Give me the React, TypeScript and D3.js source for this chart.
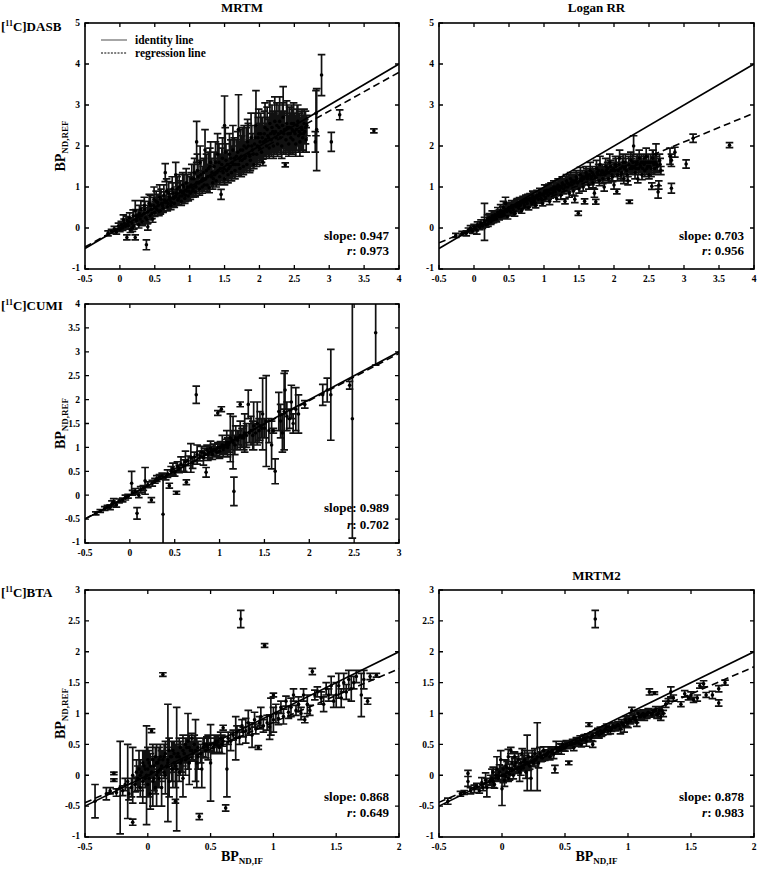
import React from "react";
import * as d3 from "d3";

type Pt = [number, number, number]; // x, y, half error

// [11C]DASB, MRTM
const dasbMrtm: Pt[] = [
  [-0.17,-0.13,0.06],[-0.12,-0.08,0.05],[-0.08,-0.02,0.06],[-0.05,-0.1,0.05],[-0.02,0.05,0.07],[0.0,-0.03,0.06],[0.02,0.08,0.08],[0.04,0.0,0.06],[0.06,0.12,0.1],[0.08,0.04,0.07],[0.1,-0.23,0.06],[0.1,0.18,0.1],[0.12,0.06,0.08],[0.14,0.25,0.12],[0.15,-0.04,0.07],[0.17,0.12,0.09],[0.19,0.3,0.14],[0.2,0.05,0.08],
  [0.22,-0.23,0.06],[0.22,0.42,0.25],[0.24,0.18,0.1],[0.26,0.3,0.15],[0.27,0.08,0.08],[0.29,0.22,0.12],[0.3,0.45,0.22],[0.32,0.15,0.09],[0.34,0.35,0.14],[0.35,0.55,0.2],[0.37,0.25,0.1],[0.38,-0.41,0.12],[0.4,0.03,0.08],[0.4,0.4,0.15],[0.42,0.6,0.22],[0.43,0.3,0.1],[0.45,0.45,0.15],[0.47,0.22,0.08],[0.48,0.55,0.2],[0.5,0.38,0.1],
  [0.52,0.65,0.25],[0.53,0.45,0.1],[0.55,0.55,0.15],[0.57,0.75,0.3],[0.58,0.42,0.08],[0.6,0.6,0.18],[0.62,0.48,0.1],[0.63,0.8,0.25],[0.65,1.35,0.22],[0.66,0.62,0.15],[0.68,0.52,0.1],[0.7,0.85,0.28],[0.72,0.68,0.15],[0.73,0.55,0.1],[0.75,0.95,0.3],[0.77,0.72,0.18],[0.78,0.6,0.1],[0.8,1.3,0.3],[0.81,0.85,0.25],[0.83,0.68,0.12],[0.85,1.0,0.3],[0.86,0.78,0.15],[0.88,0.65,0.1],[0.9,1.05,0.3],[0.91,0.85,0.2],[0.93,0.72,0.12],[0.95,1.1,0.35],[0.96,0.9,0.2],[0.98,0.78,0.12],[1.0,1.0,0.25],
  [1.01,0.85,0.15],[1.03,1.2,0.35],[1.05,0.95,0.2],[1.07,1.35,0.35],[1.08,0.88,0.12],[1.1,2.1,0.5],[1.1,1.1,0.25],[1.12,1.25,0.3],[1.14,0.95,0.15],[1.15,1.6,0.4],[1.17,1.15,0.25],[1.18,1.0,0.15],[1.2,1.35,0.35],[1.22,1.9,0.5],[1.23,1.2,0.25],[1.25,1.05,0.15],[1.27,1.45,0.4],[1.28,0.98,0.12],[1.3,1.6,0.5],[1.31,1.25,0.25],[1.33,1.1,0.15],[1.35,1.5,0.35],[1.36,1.3,0.25],[1.38,1.15,0.15],[1.4,1.8,0.5],[1.41,1.4,0.3],[1.43,1.25,0.2],[1.45,0.82,0.12],[1.46,1.55,0.4],[1.48,1.35,0.25],[1.5,2.5,0.72],[1.5,1.2,0.15],
  [1.52,1.65,0.4],[1.53,1.4,0.25],[1.55,1.3,0.2],[1.57,1.8,0.5],[1.58,1.5,0.3],[1.6,1.35,0.2],[1.62,1.9,0.6],[1.63,1.55,0.3],[1.65,1.4,0.2],[1.67,1.75,0.4],[1.7,2.4,0.85],[1.7,1.55,0.3],[1.72,1.45,0.2],[1.73,1.9,0.5],[1.75,1.65,0.3],[1.77,1.5,0.2],[1.78,2.0,0.5],[1.8,1.75,0.35],[1.82,1.55,0.2],[1.83,2.1,0.55],[1.85,1.8,0.35],[1.87,1.65,0.25],[1.88,2.2,0.6],[1.9,1.9,0.4],[1.92,1.55,0.1],[1.93,2.05,0.45],[1.95,2.5,0.85],[1.96,1.8,0.3],[1.98,2.2,0.5],[2.0,1.95,0.35],
  [2.02,2.3,0.5],[2.03,1.85,0.25],[2.05,1.6,0.08],[2.06,2.1,0.4],[2.08,2.45,0.6],[2.1,2.0,0.3],[2.12,2.25,0.45],[2.14,1.95,0.25],[2.15,2.55,0.55],[2.17,2.15,0.4],[2.19,2.35,0.5],[2.2,2.0,0.3],[2.22,2.6,0.6],[2.24,2.2,0.4],[2.26,2.05,0.3],[2.28,2.45,0.55],[2.3,2.2,0.4],[2.32,2.0,0.3],[2.34,2.7,0.75],[2.35,2.3,0.5],[2.37,1.54,0.05],[2.38,2.15,0.35],[2.4,2.45,0.55],[2.42,2.05,0.3],[2.44,2.3,0.5],[2.46,2.55,0.45],[2.48,2.15,0.35],[2.5,2.35,0.45],[2.52,2.05,0.3],[2.54,2.5,0.5],[2.56,2.25,0.4],[2.58,2.1,0.35],[2.6,2.45,0.4],[2.62,2.2,0.35],[2.64,2.55,0.35],[2.65,2.35,0.3],[2.67,2.15,0.3],[2.68,2.5,0.25],
  [0.05,0.2,0.12],[0.13,0.15,0.1],[0.18,0.0,0.08],[0.23,0.3,0.15],[0.28,0.35,0.2],[0.31,0.3,0.12],[0.36,0.45,0.2],[0.39,0.2,0.1],[0.44,0.55,0.25],[0.46,0.35,0.12],[0.49,0.7,0.3],[0.51,0.5,0.15],[0.54,0.62,0.2],[0.56,0.4,0.1],[0.59,0.7,0.25],[0.61,0.55,0.15],[0.64,0.68,0.2],[0.67,0.9,0.3],[0.69,0.6,0.12],[0.71,0.75,0.2],[0.74,0.62,0.12],[0.76,0.85,0.25],[0.79,0.75,0.2],[0.82,0.95,0.3],[0.84,0.72,0.15],[0.87,0.9,0.25],[0.89,0.78,0.15],[0.92,1.0,0.3],[0.94,0.8,0.15],[0.97,1.0,0.3],[0.99,0.9,0.2],
  [1.02,1.05,0.3],[1.04,0.9,0.15],[1.06,1.2,0.35],[1.09,1.0,0.2],[1.11,1.4,0.4],[1.13,1.1,0.2],[1.16,1.3,0.35],[1.19,1.2,0.3],[1.21,1.05,0.15],[1.24,1.4,0.4],[1.26,1.25,0.3],[1.29,1.5,0.45],[1.32,1.35,0.35],[1.34,1.2,0.2],[1.37,1.6,0.5],[1.39,1.35,0.3],[1.42,1.6,0.45],[1.44,1.45,0.35],[1.47,1.7,0.5],[1.49,1.45,0.3],
  [1.51,1.85,0.6],[1.54,1.55,0.35],[1.56,1.45,0.25],[1.59,1.7,0.45],[1.61,1.6,0.4],[1.64,1.7,0.5],[1.66,1.55,0.3],[1.69,1.85,0.5],[1.71,1.7,0.4],[1.74,1.75,0.5],[1.76,1.9,0.55],[1.79,1.7,0.35],[1.81,1.95,0.5],[1.84,2.0,0.55],[1.86,1.75,0.4],[1.89,2.0,0.5],[1.91,1.8,0.35],[1.94,2.2,0.6],[1.97,2.0,0.45],[1.99,2.3,0.6],
  [2.01,2.1,0.45],[2.04,2.2,0.5],[2.07,2.3,0.55],[2.09,2.15,0.4],[2.11,2.4,0.55],[2.13,2.2,0.45],[2.16,2.3,0.5],[2.18,2.45,0.55],[2.21,2.3,0.5],[2.23,2.35,0.5],[2.25,2.5,0.55],[2.27,2.3,0.45],[2.29,2.6,0.6],[2.31,2.35,0.5],[2.33,2.5,0.55],[2.36,2.4,0.45],[2.39,2.55,0.55],[2.41,2.3,0.45],[2.43,2.45,0.5],[2.45,2.2,0.4],[2.47,2.4,0.5],[2.49,2.55,0.5],[2.51,2.3,0.45],[2.53,2.4,0.5],[2.55,2.6,0.4],[2.57,2.35,0.45],[2.59,2.3,0.4],[2.61,2.4,0.5],[2.63,2.3,0.45],[2.66,2.45,0.4],
  [2.8,2.1,0.25],[2.82,2.4,1.0],[2.81,2.8,0.55],[2.89,3.73,0.5],[3.03,2.1,0.23],[3.15,2.76,0.12],[3.64,2.37,0.05],
];

// [11C]DASB, Logan RR
const dasbLogan: Pt[] = [
  [-0.26,-0.18,0.05],[-0.17,-0.13,0.05],[-0.11,-0.13,0.06],[-0.08,-0.05,0.05],[-0.05,0.0,0.06],[-0.02,-0.08,0.05],[0.0,0.03,0.06],[0.02,-0.02,0.05],[0.04,-0.05,0.1],[0.05,0.08,0.07],[0.08,0.02,0.06],[0.1,0.12,0.08],[0.12,0.05,0.06],[0.15,0.15,0.45],[0.15,0.18,0.08],[0.17,0.08,0.06],[0.19,0.22,0.1],[0.2,0.1,0.06],
  [0.22,0.25,0.1],[0.24,0.15,0.06],[0.26,0.3,0.12],[0.28,0.2,0.07],[0.3,0.32,0.1],[0.32,0.22,0.07],[0.34,0.38,0.12],[0.36,0.28,0.08],[0.38,0.42,0.15],[0.4,0.3,0.08],[0.42,0.5,0.15],[0.43,0.35,0.1],[0.45,0.6,0.15],[0.47,0.4,0.1],[0.48,0.28,0.06],[0.5,0.5,0.12],[0.52,0.4,0.08],[0.54,0.55,0.12],[0.56,0.45,0.1],[0.58,0.35,0.06],[0.6,0.52,0.1],
  [0.62,0.6,0.12],[0.64,0.48,0.08],[0.66,0.55,0.1],[0.68,0.42,0.06],[0.7,0.65,0.12],[0.72,0.55,0.08],[0.74,0.7,0.1],[0.76,0.6,0.1],[0.78,0.5,0.06],[0.8,0.72,0.12],[0.82,0.62,0.08],[0.84,0.78,0.12],[0.86,0.65,0.1],[0.88,0.55,0.06],[0.9,0.8,0.12],[0.92,0.7,0.1],[0.94,0.85,0.12],[0.96,0.72,0.08],[0.98,0.6,0.06],[1.0,0.85,0.12],
  [1.02,0.75,0.1],[1.04,0.92,0.12],[1.06,0.8,0.1],[1.08,0.65,0.08],[1.1,0.95,0.15],[1.12,0.85,0.1],[1.14,1.0,0.15],[1.16,0.88,0.1],[1.18,0.72,0.08],[1.2,1.05,0.15],[1.22,0.92,0.12],[1.24,0.8,0.1],[1.26,1.1,0.15],[1.28,0.95,0.12],[1.3,0.65,0.06],[1.32,1.15,0.15],[1.34,1.0,0.12],[1.36,0.85,0.1],[1.38,1.2,0.15],[1.4,1.05,0.12],[1.42,0.9,0.1],[1.44,0.7,0.08],[1.46,1.25,0.15],[1.48,1.1,0.12],[1.49,0.36,0.05],[1.5,0.95,0.1],
  [1.52,1.3,0.18],[1.54,1.15,0.12],[1.56,1.0,0.1],[1.58,0.65,0.06],[1.6,1.35,0.15],[1.62,1.2,0.15],[1.64,1.05,0.1],[1.66,1.4,0.2],[1.68,1.25,0.15],[1.7,1.1,0.12],[1.72,0.85,0.1],[1.74,0.64,0.06],[1.75,1.45,0.2],[1.77,1.3,0.15],[1.79,1.15,0.12],[1.8,1.55,0.2],[1.82,1.35,0.15],[1.84,1.2,0.12],[1.86,1.0,0.1],[1.88,1.5,0.2],[1.9,1.35,0.15],[1.92,1.2,0.1],[1.94,1.6,0.2],[1.96,1.4,0.15],[1.98,1.25,0.12],[2.0,1.05,0.1],
  [2.02,1.55,0.2],[2.04,0.89,0.06],[2.06,1.4,0.15],[2.08,1.7,0.2],[2.1,1.3,0.15],[2.12,1.5,0.2],[2.14,1.2,0.12],[2.16,1.6,0.2],[2.18,1.4,0.15],[2.2,1.15,0.1],[2.22,0.64,0.04],[2.24,1.65,0.2],[2.26,1.45,0.15],[2.28,2.0,0.25],[2.3,1.35,0.15],[2.32,1.55,0.2],[2.34,1.2,0.1],[2.36,1.7,0.2],[2.38,1.5,0.15],[2.4,1.3,0.12],[2.42,1.6,0.2],[2.44,1.4,0.15],[2.46,1.75,0.2],[2.48,1.5,0.15],[2.5,1.3,0.1],[2.52,1.6,0.2],[2.54,1.02,0.08],[2.56,1.6,0.3],[2.58,1.45,0.15],[2.6,1.8,0.25],[2.62,1.5,0.12],[2.63,0.88,0.15],[2.64,1.05,0.1],[2.65,1.65,0.15],[2.67,1.4,0.1],
  [0.21,0.18,0.08],[0.23,0.2,0.08],[0.25,0.22,0.1],[0.27,0.25,0.08],[0.29,0.28,0.1],[0.31,0.27,0.08],[0.33,0.3,0.1],[0.35,0.33,0.1],[0.37,0.35,0.1],[0.39,0.36,0.08],[0.41,0.4,0.12],[0.44,0.42,0.1],[0.46,0.45,0.12],[0.49,0.45,0.1],[0.51,0.48,0.12],[0.53,0.5,0.1],[0.55,0.5,0.12],[0.57,0.55,0.12],[0.59,0.55,0.1],[0.61,0.58,0.12],[0.63,0.55,0.1],[0.65,0.62,0.12],[0.67,0.6,0.1],[0.69,0.62,0.12],[0.71,0.62,0.1],[0.73,0.65,0.12],[0.75,0.65,0.1],[0.77,0.7,0.12],[0.79,0.68,0.1],[0.81,0.72,0.12],[0.83,0.7,0.1],[0.85,0.75,0.12],[0.87,0.72,0.1],[0.89,0.75,0.12],[0.91,0.78,0.12],[0.93,0.78,0.1],[0.95,0.8,0.12],[0.97,0.82,0.12],[0.99,0.8,0.1],
  [1.01,0.9,0.15],[1.03,0.85,0.12],[1.05,0.88,0.12],[1.07,0.92,0.15],[1.09,0.85,0.12],[1.11,0.95,0.15],[1.13,0.92,0.12],[1.15,0.95,0.15],[1.17,1.0,0.15],[1.19,0.95,0.12],[1.21,1.0,0.15],[1.23,1.02,0.15],[1.25,0.98,0.12],[1.27,1.05,0.15],[1.29,1.05,0.15],[1.31,1.0,0.12],[1.33,1.1,0.15],[1.35,1.08,0.15],[1.37,1.05,0.12],[1.39,1.12,0.15],[1.41,1.15,0.15],[1.43,1.1,0.15],[1.45,1.15,0.15],[1.47,1.2,0.15],
  [1.51,1.15,0.15],[1.53,1.2,0.15],[1.55,1.25,0.15],[1.57,1.2,0.15],[1.59,1.25,0.15],[1.61,1.3,0.15],[1.63,1.25,0.15],[1.65,1.3,0.15],[1.67,1.2,0.15],[1.69,1.35,0.15],[1.71,1.3,0.15],[1.73,1.25,0.15],[1.76,1.35,0.15],[1.78,1.4,0.15],[1.81,1.3,0.15],[1.83,1.4,0.15],[1.85,1.35,0.15],[1.87,1.3,0.15],[1.89,1.4,0.15],[1.91,1.45,0.15],[1.93,1.35,0.15],[1.95,1.5,0.15],[1.97,1.3,0.15],[1.99,1.45,0.15],
  [2.01,1.4,0.15],[2.03,1.5,0.2],[2.05,1.3,0.15],[2.07,1.55,0.2],[2.09,1.45,0.15],[2.11,1.35,0.15],[2.13,1.6,0.2],[2.15,1.45,0.15],[2.17,1.5,0.2],[2.19,1.3,0.15],[2.21,1.55,0.2],[2.23,1.45,0.15],[2.25,1.5,0.2],[2.27,1.6,0.2],[2.29,1.5,0.15],[2.31,1.45,0.15],[2.33,1.6,0.2],[2.35,1.45,0.15],[2.37,1.55,0.2],[2.39,1.6,0.2],[2.41,1.45,0.15],[2.43,1.55,0.2],[2.45,1.6,0.2],[2.47,1.45,0.15],[2.49,1.6,0.2],[2.51,1.5,0.15],[2.53,1.45,0.2],[2.55,1.7,0.2],[2.57,1.55,0.2],[2.59,1.6,0.2],[2.61,1.55,0.2],[2.66,1.55,0.15],
  [2.8,1.75,0.2],[2.82,1.65,0.15],[2.82,0.97,0.12],[2.87,1.85,0.12],[3.03,1.56,0.1],[3.13,2.19,0.1],[3.65,2.02,0.06],
];

// [11C]CUMI, MRTM
const cumiMrtm: Pt[] = [
  [-0.38,-0.38,0.03],[-0.33,-0.33,0.03],[-0.28,-0.28,0.04],[-0.25,-0.24,0.03],[-0.22,-0.25,0.05],[-0.2,-0.18,0.06],[-0.18,-0.14,0.07],[-0.15,-0.2,0.05],[-0.12,-0.12,0.04],[-0.08,-0.1,0.04],[-0.05,-0.05,0.05],[-0.02,-0.02,0.04],
  [0.02,0.25,0.25],[0.03,0.05,0.05],[0.06,0.08,0.06],[0.08,-0.38,0.12],[0.1,0.0,0.05],[0.12,0.12,0.06],[0.15,0.15,0.05],[0.17,0.3,0.28],[0.2,0.22,0.06],[0.24,-0.1,0.05],[0.25,0.25,0.06],[0.28,0.3,0.05],[0.3,0.35,0.06],[0.33,0.38,0.05],[0.36,0.4,0.06],[0.37,-0.4,0.8],[0.4,0.38,0.06],[0.42,0.45,0.08],[0.44,0.2,0.05],[0.46,0.5,0.1],[0.48,0.55,0.12],[0.5,0.48,0.08],
  [0.52,0.05,0.03],[0.53,0.6,0.1],[0.55,0.55,0.08],[0.57,0.65,0.15],[0.6,0.62,0.12],[0.62,0.7,0.22],[0.63,0.27,0.05],[0.65,0.72,0.1],[0.68,0.78,0.3],[0.7,0.68,0.12],[0.72,0.8,0.1],[0.74,2.1,0.18],[0.75,0.85,0.2],[0.78,0.82,0.1],[0.8,0.9,0.12],[0.82,0.78,0.15],[0.85,0.48,0.1],[0.86,0.95,0.1],[0.88,0.9,0.12],[0.9,0.98,0.15],[0.92,0.85,0.1],[0.95,0.95,0.12],[0.98,1.72,0.05],[0.98,1.0,0.1],[1.0,0.92,0.15],
  [1.02,1.8,0.05],[1.03,1.05,0.2],[1.05,1.0,0.12],[1.08,1.1,0.25],[1.1,1.05,0.15],[1.12,1.2,0.5],[1.15,1.1,0.55],[1.16,0.08,0.3],[1.18,1.2,0.25],[1.2,1.15,0.2],[1.23,1.9,0.05],[1.23,1.25,0.3],[1.25,1.2,0.2],[1.28,1.3,0.4],[1.3,1.25,0.25],[1.32,1.9,0.3],[1.35,1.35,0.3],[1.38,1.45,0.5],[1.4,1.3,0.2],[1.42,1.5,0.45],[1.45,1.45,0.3],[1.48,1.7,0.75],[1.5,1.4,0.2],
  [0.83,0.88,0.1],[0.87,0.85,0.12],[0.91,0.92,0.1],[0.93,0.95,0.12],[0.97,0.9,0.1],[1.01,1.0,0.12],[1.04,0.95,0.15],[1.07,1.05,0.12],[1.09,1.0,0.2],[1.11,1.1,0.15],[1.14,1.15,0.2],[1.17,1.05,0.2],[1.21,1.2,0.15],[1.27,1.2,0.25],[1.33,1.3,0.2],[1.37,1.25,0.3],[1.44,1.35,0.25],[1.47,1.4,0.2],
  [1.52,1.55,0.95],[1.55,1.35,0.25],[1.58,1.05,0.5],[1.6,1.35,0.05],[1.62,0.5,0.26],[1.66,1.75,0.4],[1.68,1.55,0.35],[1.7,1.3,0.4],[1.72,1.75,0.8],[1.73,2.2,0.4],[1.75,1.65,0.3],[1.78,1.6,0.2],[1.8,1.95,0.35],[1.82,1.5,0.2],[1.85,1.8,0.45],[1.88,1.7,0.4],[1.95,1.9,0.08],
  [2.15,2.1,0.22],[2.2,2.2,0.25],[2.24,2.1,0.95],[2.45,2.3,0.08],[2.48,1.6,2.5],[2.74,3.4,0.68],
];

// [11C]BTA, MRTM
const btaMrtm: Pt[] = [
  [-0.42,-0.42,0.27],[-0.33,-0.3,0.1],[-0.3,-0.25,0.05],[-0.27,0.03,0.02],[-0.27,-0.08,0.02],[-0.25,-0.28,0.06],[-0.22,-0.2,0.75],[-0.2,-0.25,0.08],[-0.18,-0.15,0.1],[-0.16,-0.1,0.6],[-0.15,-0.3,0.1],[-0.13,-0.2,0.15],[-0.12,0.0,0.45],[-0.12,-0.76,0.05],[-0.1,-0.15,0.12],
  [-0.08,-0.05,0.2],[-0.07,0.1,0.3],[-0.06,-0.2,0.15],[-0.05,0.05,0.1],[-0.04,-0.1,0.35],[-0.03,0.15,0.25],[-0.02,-0.05,0.1],[-0.01,0.0,0.8],[0.0,0.1,0.15],[0.0,-0.15,0.2],[0.01,0.2,0.2],[0.02,-0.3,0.25],[0.03,0.05,0.1],[0.03,0.72,0.03],[0.04,-0.1,0.4],[0.05,0.15,0.12],[0.06,0.3,0.15],[0.06,-0.2,0.1],[0.07,0.0,0.5],[0.08,0.2,0.1],[0.09,-0.05,0.15],[0.1,0.3,0.2],[0.1,0.1,0.1],
  [0.11,-0.2,0.3],[0.12,1.63,0.03],[0.12,0.25,0.15],[0.13,0.05,0.1],[0.14,0.35,0.2],[0.15,0.15,0.12],[0.16,0.2,0.95],[0.17,-0.1,0.25],[0.18,0.3,0.1],[0.19,0.1,0.2],[0.2,0.4,0.15],[0.21,0.2,0.1],[0.22,-0.42,0.03],[0.22,0.15,0.35],[0.23,0.1,1.0],[0.24,0.35,0.12],[0.25,0.05,0.15],[0.26,0.45,0.1],[0.27,0.25,0.2],[0.28,-0.05,0.3],[0.29,0.35,0.15],[0.3,0.5,0.1],[0.31,0.3,0.1],[0.32,0.55,0.45],[0.33,0.2,0.35],[0.34,0.4,0.1],[0.35,0.6,0.08],
  [-0.09,0.05,0.2],[-0.06,0.0,0.25],[-0.04,0.2,0.2],[-0.02,0.1,0.3],[0.0,0.25,0.2],[0.01,-0.05,0.3],[0.02,0.15,0.2],[0.04,0.25,0.25],[0.05,-0.05,0.2],[0.07,0.2,0.3],[0.08,0.05,0.25],[0.09,0.25,0.2],[0.11,0.15,0.25],[0.13,0.3,0.2],[0.14,0.0,0.3],[0.16,0.25,0.2],[0.17,0.4,0.2],[0.19,0.3,0.25],[0.2,0.1,0.3],[0.21,0.35,0.2],[0.23,0.3,0.2],[0.25,0.3,0.3],[0.26,0.2,0.2],[0.28,0.4,0.25],[0.3,0.25,0.25],[0.31,0.45,0.15],[0.33,0.45,0.2],[0.35,0.4,0.15],[0.37,0.5,0.15],[0.4,0.3,0.2],[0.44,0.45,0.15],[0.47,0.5,0.12],[0.53,0.5,0.15],[0.56,0.55,0.1],[0.59,0.5,0.15],
  [0.36,0.35,0.12],[0.38,0.4,0.5],[0.39,0.2,0.4],[0.4,0.45,0.1],[0.41,-0.67,0.05],[0.42,0.35,0.15],[0.43,0.1,0.3],[0.45,0.5,0.1],[0.46,0.4,0.12],[0.48,0.45,0.2],[0.5,0.2,0.62],[0.5,0.5,0.1],[0.52,0.45,0.08],[0.54,0.55,0.1],[0.55,0.5,0.15],[0.57,0.45,0.08],[0.58,0.6,0.1],[0.6,0.77,0.04],[0.6,0.55,0.08],
  [0.62,-0.53,0.05],[0.63,0.1,0.45],[0.64,0.6,0.1],[0.66,0.55,0.15],[0.68,0.65,0.08],[0.7,0.6,0.35],[0.71,0.7,0.1],[0.73,0.62,0.12],[0.74,2.53,0.14],[0.75,0.8,0.1],[0.76,0.7,0.08],[0.78,0.72,0.2],[0.8,0.85,0.2],[0.81,0.75,0.1],[0.83,0.65,0.2],[0.85,0.9,0.12],[0.86,0.75,0.08],[0.88,0.45,0.03],[0.89,0.85,0.1],[0.9,0.95,0.15],[0.92,0.8,0.1],[0.93,2.1,0.03],[0.95,0.85,0.12],[0.97,0.78,0.2],[0.98,0.95,0.3],
  [1.0,1.3,0.03],[1.0,0.9,0.2],[1.02,1.0,0.15],[1.04,0.92,0.1],[1.06,1.1,0.1],[1.08,0.95,0.12],[1.1,1.2,0.08],[1.12,1.02,0.1],[1.14,1.1,0.15],[1.16,1.3,0.1],[1.18,1.05,0.08],[1.2,1.15,0.12],[1.22,1.0,0.1],[1.24,1.3,0.1],[1.25,0.9,0.05],[1.27,1.15,0.15],[1.29,1.05,0.08],[1.31,1.68,0.05],[1.33,1.3,0.08],[1.35,1.35,0.08],[1.38,1.25,0.1],
  [1.4,1.15,0.12],[1.42,1.4,0.1],[1.44,1.3,0.1],[1.46,1.45,0.15],[1.48,1.2,0.1],[1.5,1.3,0.2],[1.52,1.45,0.2],[1.54,1.25,0.15],[1.56,1.5,0.15],[1.58,1.35,0.12],[1.6,1.55,0.15],[1.62,1.4,0.2],[1.64,1.5,0.1],[1.66,1.6,0.1],[1.7,1.3,0.35],[1.72,1.55,0.15],[1.75,1.2,0.05],[1.77,1.6,0.05],[1.82,1.62,0.03],
];

// [11C]BTA, MRTM2
const btaMrtm2: Pt[] = [
  [-0.43,-0.42,0.05],[-0.33,-0.3,0.04],[-0.3,-0.28,0.03],[-0.27,0.03,0.05],[-0.27,-0.1,0.08],[-0.25,-0.25,0.05],[-0.22,-0.22,0.06],[-0.2,-0.18,0.05],[-0.18,-0.25,0.04],[-0.16,-0.12,0.08],[-0.15,-0.2,0.05],[-0.13,-0.08,0.12],[-0.12,-0.2,0.15],[-0.1,-0.1,0.05],[-0.08,-0.05,0.15],[-0.07,0.05,0.08],[-0.06,-0.15,0.06],[-0.05,0.0,0.1],[-0.04,0.1,0.2],[-0.03,-0.05,0.05],[-0.02,0.05,0.12],[-0.01,0.25,0.15],
  [0.0,-0.22,0.27],[0.0,0.0,0.08],[0.01,0.1,0.05],[0.02,-0.08,0.1],[0.03,0.15,0.1],[0.04,0.05,0.06],[0.05,0.3,0.12],[0.05,-0.05,0.05],[0.06,0.1,0.08],[0.07,0.4,0.05],[0.08,0.2,0.1],[0.09,0.0,0.06],[0.1,0.15,0.12],[0.1,0.3,0.08],[0.12,0.1,0.05],[0.13,0.25,0.1],[0.14,0.05,0.15],[0.15,0.2,0.06],[0.16,0.35,0.08],[0.17,0.12,0.05],[0.18,0.25,0.15],[0.19,0.05,0.1],[0.2,0.2,0.45],[0.21,0.3,0.06],[0.22,0.15,0.05],[0.23,-0.05,0.2],[0.24,0.3,0.1],[0.25,0.2,0.05],[0.26,0.35,0.08],[0.27,0.25,0.06],[0.28,0.3,0.55],[0.29,0.2,0.08],[0.3,0.35,0.1],
  [-0.09,-0.08,0.08],[-0.07,-0.1,0.1],[-0.03,0.0,0.1],[0.01,0.0,0.12],[0.03,-0.02,0.08],[0.04,0.12,0.1],[0.06,0.02,0.1],[0.08,0.1,0.08],[0.11,0.2,0.1],[0.13,0.12,0.08],[0.15,0.1,0.1],[0.17,0.22,0.1],[0.19,0.2,0.08],[0.21,0.18,0.1],[0.24,0.22,0.08],[0.26,0.25,0.1],[0.31,0.3,0.08],[0.34,0.32,0.08],[0.36,0.35,0.06],[0.39,0.38,0.06],[0.41,0.35,0.08],[0.44,0.4,0.06],[0.46,0.45,0.06],[0.49,0.45,0.05],[0.51,0.5,0.06],[0.54,0.5,0.05],[0.56,0.52,0.06],[0.59,0.55,0.06],[0.61,0.52,0.05],[0.64,0.58,0.06],[0.66,0.6,0.06],[0.71,0.62,0.06],
  [0.32,0.28,0.05],[0.33,0.4,0.06],[0.35,0.32,0.05],[0.37,0.38,0.08],[0.38,0.3,0.05],[0.4,0.4,0.06],[0.42,0.1,0.06],[0.43,0.45,0.1],[0.45,0.4,0.05],[0.47,0.42,0.08],[0.48,0.5,0.05],[0.5,0.45,0.06],[0.52,0.48,0.05],[0.53,0.2,0.03],[0.55,0.5,0.06],[0.57,0.45,0.05],[0.58,0.52,0.04],[0.6,0.55,0.05],[0.62,0.58,0.06],[0.63,0.5,0.04],[0.65,0.6,0.05],[0.67,0.55,0.08],[0.68,0.62,0.05],[0.69,0.82,0.03],[0.7,0.6,0.06],[0.72,0.5,0.05],[0.72,0.65,0.05],[0.74,2.53,0.14],
  [0.75,0.68,0.05],[0.77,0.65,0.05],[0.78,0.72,0.06],[0.8,0.7,0.05],[0.82,0.75,0.05],[0.84,0.72,0.06],[0.85,0.78,0.05],[0.87,0.75,0.04],[0.88,0.8,0.05],[0.9,0.78,0.06],[0.92,0.82,0.05],[0.94,0.75,0.08],[0.95,0.85,0.05],[0.97,0.8,0.1],[0.98,0.9,0.05],[1.0,0.85,0.08],
  [0.76,0.7,0.06],[0.79,0.68,0.05],[0.81,0.72,0.06],[0.83,0.78,0.05],[0.86,0.72,0.05],[0.89,0.78,0.06],[0.91,0.8,0.05],[0.93,0.8,0.06],[0.96,0.82,0.05],[0.99,0.85,0.06],[1.01,0.9,0.06],[1.04,0.92,0.06],[1.06,0.9,0.05],[1.09,0.95,0.06],[1.11,0.98,0.05],[1.13,0.95,0.06],[1.15,0.98,0.06],[1.18,1.0,0.06],[1.2,1.02,0.05],[1.23,0.98,0.06],[1.25,1.05,0.06],[1.28,1.0,0.05],
  [1.02,0.88,0.05],[1.03,1.05,0.05],[1.05,0.95,0.08],[1.07,0.85,0.06],[1.08,1.0,0.05],[1.1,0.95,0.05],[1.12,1.0,0.06],[1.14,0.98,0.05],[1.16,1.02,0.06],[1.17,1.35,0.05],[1.19,0.98,0.04],[1.21,1.33,0.02],[1.22,1.05,0.06],[1.24,1.0,0.08],[1.26,0.95,0.06],[1.27,1.05,0.05],[1.3,1.15,0.05],[1.32,1.2,0.04],[1.34,1.35,0.08],[1.36,1.25,0.05],
  [1.42,1.15,0.04],[1.45,1.32,0.05],[1.48,1.25,0.03],[1.5,1.3,0.05],[1.52,1.22,0.04],[1.55,1.25,0.05],[1.57,1.45,0.04],[1.6,1.48,0.05],[1.62,1.3,0.04],[1.67,1.3,0.06],[1.72,1.17,0.05],[1.72,1.4,0.05],[1.77,1.5,0.04],
];

const dasbXTicks = [-0.5, 0, 0.5, 1, 1.5, 2, 2.5, 3, 3.5, 4];
const dasbYTicks = [-1, 0, 1, 2, 3, 4, 5];
const cumiXTicks = [-0.5, 0, 0.5, 1, 1.5, 2, 2.5, 3];
const cumiYTicks = [-1, -0.5, 0, 0.5, 1, 1.5, 2, 2.5, 3, 3.5, 4];
const btaXTicks = [-0.5, 0, 0.5, 1, 1.5, 2];
const btaYTicks = [-1, -0.5, 0, 0.5, 1, 1.5, 2, 2.5, 3];

const slopes = [0.947, 0.703, 0.989, 0.868, 0.878];
const intercepts = [0.01, -0.01, 0.0, -0.01, 0.0];
const rValues = [0.973, 0.956, 0.702, 0.649, 0.983];
const methodTitles = ["MRTM", "Logan RR", "", "", "MRTM2"];
const tracerNames = ["DASB", "CUMI", "BTA"];
const legendLabels = ["identity line", "regression line"];

const FONT = "'Liberation Serif', 'Times New Roman', serif";

interface PanelCfg {
  data: Pt[];
  x0: number; x1: number; y0: number; y1: number;
  xd: [number, number]; yd: [number, number];
  xt: number[]; yt: number[];
  idx: number;
  statsDy: [number, number];
  titleY: number;
}

const panels: PanelCfg[] = [
  { idx: 0, data: dasbMrtm, x0: 85, x1: 399, y0: 23, y1: 269, xd: [-0.5, 4], yd: [-1, 5], xt: dasbXTicks, yt: dasbYTicks, statsDy: [29, 14], titleY: 12 },
  { idx: 1, data: dasbLogan, x0: 439, x1: 754, y0: 23, y1: 269, xd: [-0.5, 4], yd: [-1, 5], xt: dasbXTicks, yt: dasbYTicks, statsDy: [29, 14], titleY: 12 },
  { idx: 2, data: cumiMrtm, x0: 85, x1: 399, y0: 304, y1: 543, xd: [-0.5, 3], yd: [-1, 4], xt: cumiXTicks, yt: cumiYTicks, statsDy: [31, 14], titleY: 295 },
  { idx: 3, data: btaMrtm, x0: 85, x1: 399, y0: 590, y1: 837, xd: [-0.5, 2], yd: [-1, 3], xt: btaXTicks, yt: btaYTicks, statsDy: [36, 20], titleY: 580 },
  { idx: 4, data: btaMrtm2, x0: 439, x1: 754, y0: 590, y1: 837, xd: [-0.5, 2], yd: [-1, 3], xt: btaXTicks, yt: btaYTicks, statsDy: [36, 20], titleY: 580 },
];

function Panel({ cfg }: { cfg: PanelCfg }) {
  const xs = d3.scaleLinear().domain(cfg.xd).range([cfg.x0, cfg.x1]);
  const ys = d3.scaleLinear().domain(cfg.yd).range([cfg.y1, cfg.y0]);
  const clipId = `clip${cfg.idx}`;
  const cap = 3.8;
  const bars = cfg.data
    .map(([x, y, e]) => {
      const px = xs(x);
      const yt = ys(y + e);
      const yb = ys(y - e);
      return `M${px},${yt}V${yb}M${px - cap},${yt}H${px + cap}M${px - cap},${yb}H${px + cap}`;
    })
    .join("");
  const xa = cfg.xd[0], xb = cfg.xd[1];
  const idPath = `M${xs(xa)},${ys(xa)}L${xs(xb)},${ys(xb)}`;
  const s = slopes[cfg.idx], b = intercepts[cfg.idx];
  const regPath = `M${xs(xa)},${ys(s * xa + b)}L${xs(xb)},${ys(s * xb + b)}`;
  const tl = 4;
  const ticks: string[] = [];
  cfg.xt.forEach((t) => {
    const px = xs(t);
    ticks.push(`M${px},${cfg.y1}v${-tl}M${px},${cfg.y0}v${tl}`);
  });
  cfg.yt.forEach((t) => {
    const py = ys(t);
    ticks.push(`M${cfg.x0},${py}h${tl}M${cfg.x1},${py}h${-tl}`);
  });
  const title = methodTitles[cfg.idx];
  const ymin = cfg.yd[0];
  return (
    <g>
      <defs>
        <clipPath id={clipId}>
          <rect x={cfg.x0} y={cfg.y0} width={cfg.x1 - cfg.x0} height={cfg.y1 - cfg.y0} />
        </clipPath>
      </defs>
      <g clipPath={`url(#${clipId})`}>
        <path d={bars} stroke="#111" strokeWidth={1.7} fill="none" />
        {cfg.data.map(([x, y], i) => (
          <circle key={i} cx={xs(x)} cy={ys(y)} r={1.8} fill="#000" />
        ))}
        <path d={idPath} stroke="#000" strokeWidth={1.6} fill="none" />
        <path d={regPath} stroke="#000" strokeWidth={1.6} strokeDasharray="7,4" fill="none" />
      </g>
      <rect x={cfg.x0} y={cfg.y0} width={cfg.x1 - cfg.x0} height={cfg.y1 - cfg.y0} fill="none" stroke="#000" strokeWidth={1.6} />
      <path d={ticks.join("")} stroke="#000" strokeWidth={1.3} fill="none" />
      {cfg.xt.map((t) => (
        <text key={`x${t}`} x={xs(t)} y={cfg.y1 + 13} fontSize={9.5} fontWeight="bold" textAnchor="middle" fontFamily={FONT}>
          {String(t)}
        </text>
      ))}
      {cfg.yt.map((t) => (
        <text key={`y${t}`} x={cfg.x0 - 5} y={ys(t) + (t === ymin ? 1.5 : 3.3)} fontSize={9.5} fontWeight="bold" textAnchor="end" fontFamily={FONT}>
          {String(t)}
        </text>
      ))}
      {title && (
        <text x={(cfg.x0 + cfg.x1) / 2} y={cfg.titleY} fontSize={13} fontWeight="bold" textAnchor="middle" fontFamily={FONT}>
          {title}
        </text>
      )}
      <text x={cfg.x1 - 10} y={cfg.y1 - cfg.statsDy[0]} fontSize={13} fontWeight="bold" textAnchor="end" fontFamily={FONT}>
        {`slope: ${slopes[cfg.idx].toFixed(3)}`}
      </text>
      <text x={cfg.x1 - 10} y={cfg.y1 - cfg.statsDy[1]} fontSize={13} fontWeight="bold" textAnchor="end" fontFamily={FONT}>
        <tspan fontStyle="italic">r</tspan>
        {`: ${rValues[cfg.idx].toFixed(3)}`}
      </text>
    </g>
  );
}

function YLabel({ cy }: { cy: number }) {
  return (
    <text transform={`translate(65,${cy}) rotate(-90)`} fontSize={14} fontWeight="bold" textAnchor="middle" fontFamily={FONT}>
      BP<tspan fontSize={9} dy={3}>ND,REF</tspan>
    </text>
  );
}

function XLabel({ cx }: { cx: number }) {
  return (
    <text x={cx} y={861} fontSize={14} fontWeight="bold" textAnchor="middle" fontFamily={FONT}>
      BP<tspan fontSize={9} dy={3}>ND,IF</tspan>
    </text>
  );
}

function Tracer({ name, y }: { name: string; y: number }) {
  return (
    <text x={1} y={y} fontSize={13} fontWeight="bold" fontFamily={FONT}>
      [<tspan fontSize={8} dy={-5}>11</tspan>
      <tspan dy={5}>{`C]${name}`}</tspan>
    </text>
  );
}

export default function App() {
  return (
    <svg width={757} height={873} style={{ position: "absolute", left: 0, top: 0, background: "#fff" }}>
      <rect x={0} y={0} width={757} height={873} fill="#fff" />
      {panels.map((p) => (
        <Panel key={p.idx} cfg={p} />
      ))}
      <Tracer name={tracerNames[0]} y={31} />
      <Tracer name={tracerNames[1]} y={310} />
      <Tracer name={tracerNames[2]} y={597} />
      <YLabel cy={(23 + 269) / 2} />
      <YLabel cy={(304 + 543) / 2} />
      <YLabel cy={(590 + 837) / 2} />
      <XLabel cx={(85 + 399) / 2} />
      <XLabel cx={(439 + 754) / 2} />
      <line x1={101} y1={40} x2={127} y2={40} stroke="#888" strokeWidth={1.5} />
      <line x1={101} y1={53} x2={127} y2={53} stroke="#000" strokeWidth={1} strokeDasharray="2,1.3" />
      <text x={135} y={44} fontSize={11.5} fontWeight="bold" fontFamily={FONT}>{legendLabels[0]}</text>
      <text x={135} y={57} fontSize={11.5} fontWeight="bold" fontFamily={FONT}>{legendLabels[1]}</text>
    </svg>
  );
}
